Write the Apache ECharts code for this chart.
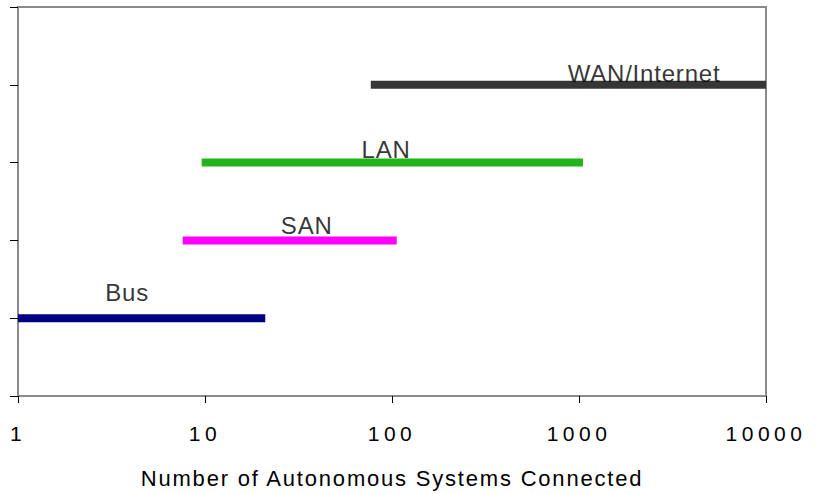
<!DOCTYPE html>
<html>
<head>
<meta charset="utf-8">
<script src="https://cdn.jsdelivr.net/npm/echarts@6/dist/echarts.min.js"></script>
<style>
  html, body { margin: 0; padding: 0; background: #fff; }
  #chart { width: 819px; height: 494px; }
  #chart text[style*="21px"] { letter-spacing: 4.5px; }
  #chart text[style*="22px"] { letter-spacing: 1.8px; }
  #chart text[style*="24px"] { letter-spacing: 0.8px; }
</style>
</head>
<body>
<div id="chart"></div>
<script>
// ---- data ----
const categories = ['Bus', 'SAN', 'LAN', 'WAN/Internet'];
const levels = [1, 2, 3, 4];
const rangeStart = [1, 7.6, 9.6, 77];
const rangeEnd = [21, 106, 1050, 10000];
const labelX = [3.83, 35, 93, 2227];
const labelY = [1.18, 2.04, 3.01, 3.99];
const xTickLabels = ['1', '10', '100', '1000', '10000'];
const xAxisTitle = 'Number of Autonomous Systems Connected';

const colors = ['#000080', '#ff00ff', '#20b418', '#363636'];

const series = [];
categories.forEach((name, i) => {
  series.push({
    name: name,
    type: 'line',
    symbol: 'none',
    silent: true,
    lineStyle: { color: colors[i], width: 8, cap: 'butt' },
    data: [[rangeStart[i], levels[i]], [rangeEnd[i], levels[i]]],
    z: 3
  });
});
series.push({
  type: 'scatter',
  symbolSize: 0,
  silent: true,
  data: categories.map((n, i) => ({ value: [labelX[i], labelY[i]], name: n })),
  label: {
    show: true,
    position: 'top',
    distance: 0,
    formatter: p => p.name,
    fontFamily: 'Liberation Sans, Arial, sans-serif',
    fontSize: 24,
    color: '#000'
  },
  z: 5
});

const chart = echarts.init(document.getElementById('chart'), null, { renderer: 'svg' });
chart.setOption({
  animation: false,
  backgroundColor: '#fff',
  grid: {
    left: 18, right: 53, top: 7, bottom: 97,
    show: true, borderColor: '#8a8a8a', borderWidth: 2, backgroundColor: 'transparent'
  },
  xAxis: {
    type: 'log',
    logBase: 10,
    min: 1,
    max: 10000,
    name: xAxisTitle,
    nameLocation: 'middle',
    nameGap: 71,
    nameTextStyle: { fontFamily: 'Liberation Sans, Arial, sans-serif', fontSize: 22, color: '#000' },
    axisLine: { show: true, lineStyle: { color: '#000', width: 1, shadowColor: '#8a8a8a', shadowOffsetY: 1.5, shadowBlur: 0 } },
    axisTick: { show: true, inside: false, length: 7, lineStyle: { color: '#000' } },
    axisLabel: {
      margin: 27,
      fontFamily: 'Liberation Sans, Arial, sans-serif',
      fontSize: 21,
      color: '#000',
      formatter: (v) => {
        const idx = Math.round(Math.log10(v));
        return xTickLabels[idx] !== undefined ? xTickLabels[idx] : '';
      }
    },
    splitLine: { show: false },
    minorTick: { show: false }
  },
  yAxis: {
    type: 'value',
    min: 0,
    max: 5,
    interval: 1,
    axisLine: { show: true, lineStyle: { color: '#000', width: 1, shadowColor: '#8a8a8a', shadowOffsetX: 2, shadowBlur: 0 } },
    axisTick: { show: true, inside: false, length: 8, lineStyle: { color: '#000' } },
    axisLabel: { show: false },
    splitLine: { show: false }
  },
  series: series
});
</script>
</body>
</html>
